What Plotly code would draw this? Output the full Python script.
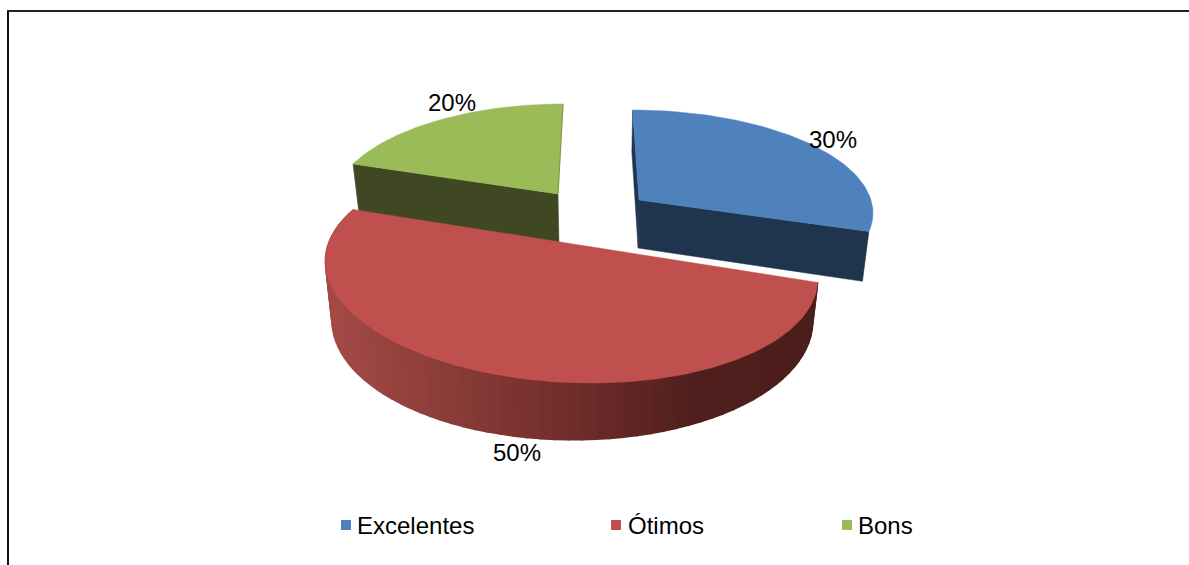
import math
import plotly.graph_objects as go

# Survey result shares
categorias = ["Excelentes", "Ótimos", "Bons"]
valores = [30, 50, 20]

cores_topo = {"Excelentes": "#4f81bd", "Ótimos": "#c0504d", "Bons": "#9bbb59"}
cores_lado = {"Excelentes": "#1f344d", "Bons": "#3f4822"}

LARGURA, ALTURA = 1189, 565

# Projection of each tilted slice from the unit circle onto the canvas
camera = {
    "Excelentes": dict(ax=639, ay=200, a=232, b=-7, d=0, e=99, h=0.1, g=0),
    "Ótimos": dict(ax=556.8, ay=241.5, a=237.5, b=-8, d=3.3, e=105.8, h=0.25, g=-0.05),
    "Bons": dict(ax=558, ay=194, a=224, b=5.5, d=0.4, e=99, h=0.1, g=0),
}


def topo(theta, c):
    u, v = math.sin(theta), math.cos(theta)
    den = 1 + c["h"] * v + c["g"] * u
    return (c["ax"] + (c["a"] * u + c["b"] * v) / den,
            c["ay"] + (c["d"] * u - c["e"] * v) / den)


def base(p, extra=0.0, inclinacao=0.0):
    # Lower rim of the disc: converges towards the far side of the view
    x, y = p
    return (600 + 0.976 * (x - 600),
            y + 45 + extra + 0.055 * (y - 163) - inclinacao * (x - 570))


def arco(t0, t1, c, n=80):
    return [topo(t0 + (t1 - t0) * i / n, c) for i in range(n + 1)]


def poligono(pts, cor, largura=0.0):
    return go.Scatter(
        x=[p[0] for p in pts] + [pts[0][0]],
        y=[p[1] for p in pts] + [pts[0][1]],
        mode="lines", fill="toself", fillcolor=cor,
        line=dict(color=cor, width=largura),
        hoverinfo="skip", showlegend=False,
    )


def mistura(x):
    paradas = [(333, (163, 73, 70)), (450, (137, 60, 56)), (570, (112, 45, 43)),
               (700, (78, 31, 29)), (813, (76, 30, 28))]
    if x <= paradas[0][0]:
        return "rgb(%d,%d,%d)" % paradas[0][1]
    for (x0, c0), (x1, c1) in zip(paradas, paradas[1:]):
        if x <= x1:
            t = (x - x0) / (x1 - x0)
            return "rgb(%d,%d,%d)" % tuple(round(a + (b - a) * t) for a, b in zip(c0, c1))
    return "rgb(%d,%d,%d)" % paradas[-1][1]


# Slice angles, clockwise from the top
total = sum(valores)
angulos = {}
acum = 0
for nome, valor in zip(categorias, valores):
    angulos[nome] = (2 * math.pi * acum / total, 2 * math.pi * (acum + valor) / total)
    acum += valor

fig = go.Figure()

# Back slice: green (its wall runs on behind the red slice)
c = camera["Bons"]
t0, t1 = angulos["Bons"]
apice = (c["ax"], c["ay"])
canto = topo(t0, c)
fig.add_trace(poligono([apice, canto, base(canto, 4), base(apice, 4)], cores_lado["Bons"], 0.5))
fig.add_trace(poligono([apice] + arco(t0, t1, c), cores_topo["Bons"], 0.5))
fig.add_trace(go.Scatter(x=[apice[0], topo(t1, c)[0]], y=[apice[1], topo(t1, c)[1]],
                         mode="lines", line=dict(color="#84994f", width=1.2),
                         hoverinfo="skip", showlegend=False))

# Pulled-out slice: blue
c = camera["Excelentes"]
t0, t1 = angulos["Excelentes"]
apice = (c["ax"], c["ay"])
canto = topo(t0, c)
fim = topo(t1, c)
fig.add_trace(poligono([apice, canto, base(canto), base(apice)], cores_lado["Excelentes"], 0.5))
fig.add_trace(poligono([apice, fim, base(fim, 1), base(apice, 1)], cores_lado["Excelentes"], 0.5))
fig.add_trace(poligono([apice] + arco(t0, t1, c), cores_topo["Excelentes"], 0.5))

# Front slice: red, with a shaded outer wall built from narrow strips
c = camera["Ótimos"]
t0, t1 = angulos["Ótimos"]
N = 70
for i in range(N):
    a0 = t0 + (t1 - t0) * i / N
    a1 = t0 + (t1 - t0) * (i + 1) / N
    p0, p1 = topo(a0, c), topo(a1, c)
    fig.add_trace(poligono([p0, p1, base(p1, 0, 0.035), base(p0, 0, 0.035)],
                           mistura((p0[0] + p1[0]) / 2), 1.6))
fig.add_trace(poligono(arco(t0, t1, c, 160), cores_topo["Ótimos"], 0.5))

# Legend swatches
legenda_x = [346, 616, 847]
fig.add_trace(go.Scatter(
    x=legenda_x, y=[525] * 3, mode="markers",
    marker=dict(symbol="square", size=10, color=[cores_topo[n] for n in categorias]),
    hoverinfo="skip", showlegend=False,
))

fonte = dict(family="Liberation Sans, Arial, sans-serif", size=24, color="#000000")
anotacoes = []
for nome, x, dx in zip(categorias, legenda_x, [9, 10, 9]):
    anotacoes.append(dict(x=x + dx, y=525, text=nome, showarrow=False, xanchor="left",
                          yanchor="middle", font=fonte, xref="x", yref="y"))
for valor, (x, y) in zip(valores, [(833, 139), (517, 452), (452, 102)]):
    anotacoes.append(dict(x=x, y=y, text=f"{valor}%", showarrow=False, xanchor="center",
                          yanchor="middle", font=fonte, xref="x", yref="y"))

fig.update_layout(
    width=LARGURA, height=ALTURA,
    margin=dict(l=0, r=0, t=0, b=0),
    paper_bgcolor="white", plot_bgcolor="white",
    showlegend=False,
    xaxis=dict(range=[0, LARGURA], visible=False, fixedrange=True),
    yaxis=dict(range=[ALTURA, 0], visible=False, fixedrange=True),
    annotations=anotacoes,
    shapes=[
        dict(type="line", x0=8, x1=8, y0=10, y1=ALTURA, xref="x", yref="y",
             line=dict(color="#111111", width=2)),
        dict(type="line", x0=7, x1=LARGURA, y0=11, y1=11, xref="x", yref="y",
             line=dict(color="#222222", width=2)),
    ],
)

fig.write_html("out.html")
